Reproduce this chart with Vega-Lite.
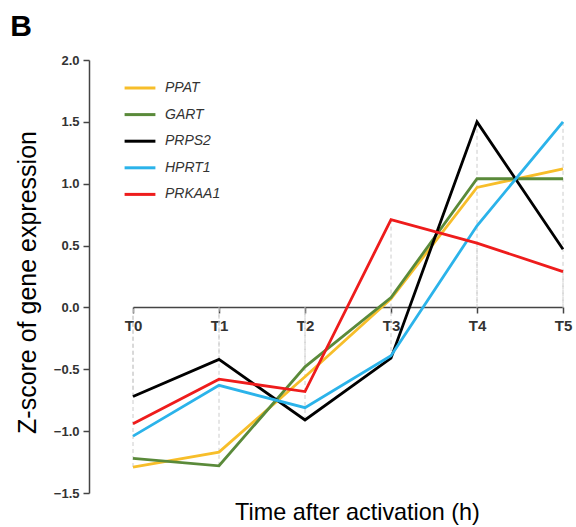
{
  "$schema": "https://vega.github.io/schema/vega-lite/v6.json",
  "autosize": {"type": "none"},
  "width": 430,
  "height": 433,
  "padding": {"left": 133, "top": 60, "right": 13, "bottom": 34},
  "background": "white",
  "config": {
    "font": "Liberation Sans",
    "view": {"stroke": null}
  },
  "title": {
    "text": "B",
    "anchor": "start",
    "frame": "bounds",
    "fontSize": 30,
    "fontWeight": "bold",
    "color": "black",
    "baseline": "bottom",
    "offset": 14,
    "dy": 32,
    "dx": -5
  },
  "data": {
    "values": [
      {"t": "T0", "gene": "PPAT", "z": -1.29},
      {"t": "T1", "gene": "PPAT", "z": -1.17},
      {"t": "T2", "gene": "PPAT", "z": -0.56},
      {"t": "T3", "gene": "PPAT", "z": 0.07},
      {"t": "T4", "gene": "PPAT", "z": 0.97},
      {"t": "T5", "gene": "PPAT", "z": 1.12},
      {"t": "T0", "gene": "GART", "z": -1.22},
      {"t": "T1", "gene": "GART", "z": -1.28},
      {"t": "T2", "gene": "GART", "z": -0.48},
      {"t": "T3", "gene": "GART", "z": 0.08},
      {"t": "T4", "gene": "GART", "z": 1.04},
      {"t": "T5", "gene": "GART", "z": 1.04},
      {"t": "T0", "gene": "PRPS2", "z": -0.72},
      {"t": "T1", "gene": "PRPS2", "z": -0.42},
      {"t": "T2", "gene": "PRPS2", "z": -0.91},
      {"t": "T3", "gene": "PRPS2", "z": -0.41},
      {"t": "T4", "gene": "PRPS2", "z": 1.5},
      {"t": "T5", "gene": "PRPS2", "z": 0.47},
      {"t": "T0", "gene": "HPRT1", "z": -1.04},
      {"t": "T1", "gene": "HPRT1", "z": -0.63},
      {"t": "T2", "gene": "HPRT1", "z": -0.81},
      {"t": "T3", "gene": "HPRT1", "z": -0.39},
      {"t": "T4", "gene": "HPRT1", "z": 0.66},
      {"t": "T5", "gene": "HPRT1", "z": 1.5},
      {"t": "T0", "gene": "PRKAA1", "z": -0.94},
      {"t": "T1", "gene": "PRKAA1", "z": -0.58},
      {"t": "T2", "gene": "PRKAA1", "z": -0.68},
      {"t": "T3", "gene": "PRKAA1", "z": 0.71},
      {"t": "T4", "gene": "PRKAA1", "z": 0.52},
      {"t": "T5", "gene": "PRKAA1", "z": 0.29}
    ]
  },
  "encoding": {
    "x": {
      "field": "t",
      "type": "ordinal",
      "scale": {"type": "point", "padding": 0, "domain": ["T0", "T1", "T2", "T3", "T4", "T5"]},
      "axis": {
        "title": "Time after activation (h)",
        "titleFontSize": 23.4,
        "titleFontWeight": "normal",
        "titleColor": "black",
        "titleY": 194,
        "titleX": 224,
        "offset": -186,
        "labelAngle": 0,
        "labelFontSize": 15,
        "labelFontWeight": "bold",
        "labelColor": "#333",
        "labelPadding": 5,
        "domainColor": "#444",
        "domainWidth": 1.5,
        "tickColor": "#444",
        "tickWidth": 1.5,
        "tickSize": 6,
        "grid": false
      }
    },
    "y": {
      "type": "quantitative",
      "scale": {"domain": [-1.5, 2.0], "nice": false, "zero": false},
      "axis": {
        "title": "Z-score of gene expression",
        "titleFontSize": 25,
        "titleFontWeight": "normal",
        "titleColor": "black",
        "titlePadding": 13,
        "titleY": 222,
        "offset": 44,
        "values": [-1.5, -1.0, -0.5, 0.0, 0.5, 1.0, 1.5, 2.0],
        "format": ".1f",
        "labelFontSize": 13,
        "labelFontWeight": "bold",
        "labelColor": "#333",
        "labelPadding": 4,
        "domainColor": "#444",
        "domainWidth": 1.5,
        "tickColor": "#444",
        "tickWidth": 1.5,
        "tickSize": 6,
        "grid": false
      }
    }
  },
  "layer": [
    {
      "mark": {"type": "rule", "color": "#cccccc", "strokeDash": [4, 3], "strokeWidth": 1},
      "encoding": {
        "y": {"aggregate": "min", "field": "z", "type": "quantitative"},
        "y2": {"datum": 0}
      }
    },
    {
      "mark": {"type": "rule", "color": "#cccccc", "strokeDash": [4, 3], "strokeWidth": 1},
      "encoding": {
        "y": {"aggregate": "max", "field": "z", "type": "quantitative"},
        "y2": {"datum": 0}
      }
    },
    {
      "mark": {"type": "line", "strokeWidth": 2.8},
      "encoding": {
        "y": {"field": "z", "type": "quantitative"},
        "color": {
          "field": "gene",
          "type": "nominal",
          "scale": {
            "domain": ["PPAT", "GART", "PRPS2", "HPRT1", "PRKAA1"],
            "range": ["#F7BE2A", "#5A8A3A", "#000000", "#2BB3EA", "#EE1C1C"]
          },
          "legend": {
            "title": null,
            "orient": "none",
            "legendX": -10,
            "legendY": 11,
            "symbolType": "stroke",
            "symbolSize": 950,
            "symbolStrokeWidth": 3,
            "labelFontSize": 14,
            "labelFontStyle": "italic",
            "labelColor": "#333",
            "labelOffset": 8,
            "rowPadding": 2.6
          }
        },
        "order": {"field": "gene"}
      }
    }
  ]
}
